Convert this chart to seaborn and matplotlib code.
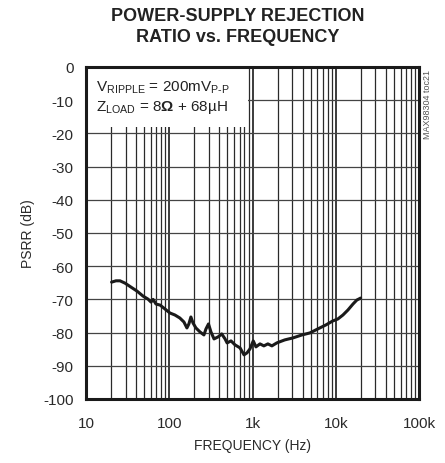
import seaborn as sns
import matplotlib.pyplot as plt
import numpy as np
import pandas as pd
from matplotlib.patches import Rectangle
from matplotlib.ticker import FixedLocator, NullFormatter, LogLocator

# values
freq_hz = [20.3, 22.9, 25.6, 29.4, 34.7, 41.0, 48.4, 55.5, 60.4, 63.9, 69.3, 77.5,
           89, 102, 117, 134, 150, 163, 172, 182, 193, 209, 234, 261, 276, 296,
           317, 345, 386, 427, 468, 495, 552, 617, 708, 791, 859, 933, 1021, 1100,
           1230, 1370, 1530, 1710, 1960, 2440, 3060, 3930, 4890, 6080, 7600, 9200,
           10600, 12200, 14000, 16100, 17900, 19900]
psrr_db = [-64.8, -64.4, -64.4, -65.1, -66.3, -67.5, -69.0, -69.9, -70.8, -70.0, -71.4, -71.7,
           -72.9, -74.1, -74.7, -75.6, -76.8, -78.6, -77.4, -75.3, -77.1, -78.6, -79.8, -80.7,
           -78.9, -77.4, -79.8, -81.9, -81.3, -80.4, -81.9, -83.1, -82.5, -83.7, -84.6, -86.7,
           -86.1, -84.9, -82.5, -84.3, -83.4, -84.0, -83.4, -84.0, -83.1, -82.2, -81.6, -80.7,
           -80.1, -78.9, -77.7, -76.5, -75.9, -74.7, -73.2, -71.4, -70.2, -69.6]
x_ticks = [10, 100, 1000, 10000, 100000]
x_labels = ["10", "100", "1k", "10k", "100k"]
y_ticks = list(range(-100, 1, 10))

sns.set_style("white")
plt.rcParams['font.family'] = ['Liberation Sans', 'DejaVu Sans']
plt.rcParams['mathtext.fontset'] = 'custom'
plt.rcParams['mathtext.rm'] = 'Liberation Sans'
plt.rcParams['mathtext.bf'] = 'Liberation Sans:bold'

df = pd.DataFrame({"f": freq_hz, "psrr": psrr_db})

fig = plt.figure(figsize=(4.45, 4.64), dpi=100)
ax = fig.add_axes([86/445, 1-400/464, 333/445, 332/464])

ax.set_xscale("log")
ax.set_xlim(10, 100000)
ax.set_ylim(-100, 0)
ax.xaxis.set_major_locator(FixedLocator(x_ticks))
ax.xaxis.set_minor_locator(LogLocator(base=10, subs=np.arange(2, 10)))
ax.xaxis.set_minor_formatter(NullFormatter())
ax.set_xticklabels(x_labels)
ax.set_yticks(y_ticks)
ax.set_yticklabels([str(v) for v in y_ticks])

ax.grid(True, which="major", axis="x", color="#1a1a1a", lw=1.2)
ax.grid(True, which="minor", axis="x", color="#2a2a2a", lw=0.9)
ax.grid(True, which="major", axis="y", color="#444444", lw=0.9)
ax.set_axisbelow(True)

sns.lineplot(data=df, x="f", y="psrr", ax=ax, color="#1a1a1a", lw=2.2, zorder=5)

# white box behind the condition text, hiding the grid there
ax.add_patch(Rectangle((0, 0.82), 0.487, 0.18, transform=ax.transAxes,
                       facecolor="white", edgecolor="none", zorder=3))

for s in ax.spines.values():
    s.set_linewidth(2.2)
    s.set_color("#1a1a1a")
    s.set_zorder(6)
ax.tick_params(which="both", length=0, labelsize=11, colors="#2a2a2a")
ax.tick_params(axis="y", pad=9)
ax.tick_params(axis="x", pad=12)

ax.set_xlabel("FREQUENCY (Hz)", fontsize=10, color="#2a2a2a", labelpad=6)
ax.set_ylabel("PSRR (dB)", fontsize=10, color="#2a2a2a", labelpad=6)

fig.text(0.535, 0.982, "POWER-SUPPLY REJECTION\nRATIO vs. FREQUENCY", ha="center", va="top",
         fontsize=13, fontweight="bold", color="#222222", linespacing=1.25)

ax.text(0.03, 0.965, "V$_{\\rm RIPPLE}$ = 200mV$_{\\rm P\u2010P}$\nZ$_{\\rm LOAD}$ = 8$\\mathbf{\\Omega}$ + 68\u00b5H",
        transform=ax.transAxes, ha="left", va="top", fontsize=11, color="#222222",
        linespacing=1.25, zorder=4)

fig.text(428/445, 1-70/464, "MAX98304 toc21", rotation=90, ha="center", va="top",
         fontsize=6.5, color="#555555")

fig.savefig("out.png", dpi=100)
